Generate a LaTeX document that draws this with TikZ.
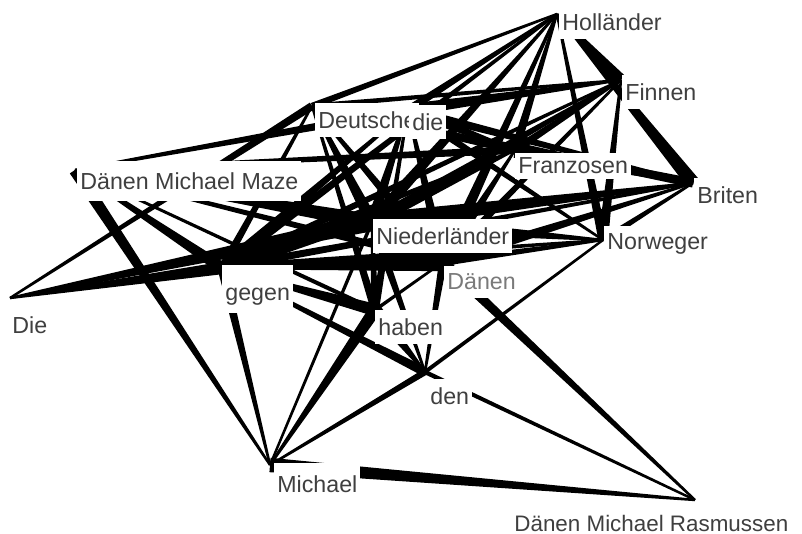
\documentclass[tikz,border=0pt]{standalone}
\usepackage{fontspec}
\setmainfont{Liberation Sans}
\usetikzlibrary{calc}
\definecolor{schrift}{HTML}{3F3F3F}
\definecolor{grau}{HTML}{7A7A7A}
% Kante als Keil: duenn bei #1, breit bei #2
\newcommand{\keil}[3]{%
  \fill ($(#1)!0.6pt!90:(#2)$) -- ($(#1)!0.6pt!-90:(#2)$)
    -- ($(#2)!#3!90:(#1)$) -- ($(#2)!#3!-90:(#1)$) -- cycle;}

\begin{document}
\begin{tikzpicture}[x=0.5pt,y=-0.5pt,
    wort/.style={fill=white, text=schrift, inner xsep=1.5pt, inner ysep=4pt,
      font=\fontsize{11.6}{13}\selectfont}]
    \useasboundingbox (0,0) rectangle (802,534);
    % Knoten
    \coordinate (hol) at (557,14);
    \coordinate (fin) at (621,80);
    \coordinate (bri) at (693,183);
    \coordinate (nor) at (603,240);
    \coordinate (fra) at (515,150);
    \coordinate (die) at (408,110);
    \coordinate (deu) at (312,106);
    \coordinate (dmm) at (75,170);
    \coordinate (nie) at (372,222);
    \coordinate (dan) at (443,262);
    \coordinate (geg) at (222,268);
    \coordinate (Die) at (10,298);
    \coordinate (hab) at (375,310);
    \coordinate (den) at (425,372);
    \coordinate (mic) at (270,465);
    \coordinate (dmr) at (695,500);
    % Kanten
    \foreach \a/\b/\w in {dmr/mic/3.6pt, dmr/dan/2.6pt, dmr/den/1.1pt, nor/den/1pt,
        den/hab/3.4pt, den/nie/2.3pt, den/dan/2pt, mic/den/1.6pt, mic/geg/2.3pt,
        mic/dmm/3.1pt, mic/nie/0.9pt, mic/hab/3.1pt, geg/hab/3.1pt, geg/den/2.3pt,
        Die/geg/3.1pt, Die/nie/4.6pt, Die/deu/2pt, geg/dan/4.6pt,
        dmm/geg/2.9pt, dmm/hab/1.1pt, dmm/nie/3.9pt, dmm/die/2.3pt, dmm/fra/2pt, dmm/dan/2pt,
        deu/nie/3.1pt, deu/geg/2pt, deu/dan/2.9pt, deu/hab/2pt, deu/fra/2pt, deu/bri/2.3pt}
      \keil{\a}{\b}{\w};
    \foreach \a/\b/\w in {hol/deu/1.6pt, hol/die/2pt, hol/nie/3.1pt, hol/geg/2.3pt,
        hol/dan/3.1pt, hol/fra/2.3pt, hol/nor/2.3pt, hol/bri/3.5pt, hol/fin/2.9pt,
        fin/die/3.1pt, fin/deu/1.3pt, fin/nie/2.9pt, fin/fra/2pt, fin/nor/2.6pt,
        fin/dan/2pt, fin/geg/2pt,
        bri/fra/3.9pt, bri/nie/4.6pt, bri/nor/1.6pt, bri/die/2.3pt, bri/geg/2pt, bri/dan/2.9pt,
        nor/nie/4.6pt, nor/die/2pt, nor/geg/2pt, nor/dan/2pt,
        fra/die/2.9pt, fra/nie/2.9pt, fra/geg/2.3pt, fra/dan/2.9pt,
        die/nie/2.9pt, die/geg/2.9pt, die/dan/2.9pt, die/hab/2pt,
        nie/geg/3.5pt, nie/hab/2pt, nie/dan/2.9pt, dan/hab/0.9pt}
      \keil{\a}{\b}{\w};
    % Beschriftungen
    \node[wort, anchor=west] (tHol) at (559,22) {Holländer};
    \node[wort, anchor=west] (tFin) at (622,92) {Finnen};
    \node[wort, anchor=west] (tBri) at (694,195) {Briten};
    \node[wort, anchor=west] (tNor) at (604,244) {Norweger};
    \node[wort, anchor=west, inner ysep=2.5pt] (tFra) at (515,166) {Franzosen};
    \node[wort, anchor=west] (tDeu) at (315,120) {Deutsche};
    \node[wort, anchor=west] (tDie) at (409,122) {die};
    \node[wort, anchor=west, inner ysep=5.5pt] (tDmm) at (77,181) {Dänen Michael Maze};
    \node[wort, anchor=west] (tNie) at (373,236) {Niederländer};
    \node[wort, anchor=west, text=grau] (tDan) at (444,282) {Dänen};
    \node[wort, anchor=base west, text height=13.5pt] (tGeg) at (222,300) {gegen};
    \node[wort, anchor=west] (tHab) at (375,327) {haben};
    \node[wort, anchor=west] (tDen) at (427,396) {den};
    \node[wort, anchor=west] (tDie2) at (9,325) {Die};
    \node[wort, anchor=west, inner ysep=6pt] (tMic) at (274,484) {Michael};
    \node[wort, anchor=west, inner xsep=0pt, inner ysep=0.5pt,
      font=\fontsize{11.2}{13}\selectfont] (tDmr) at (514,523) {Dänen Michael Rasmussen};
\end{tikzpicture}
\end{document}
